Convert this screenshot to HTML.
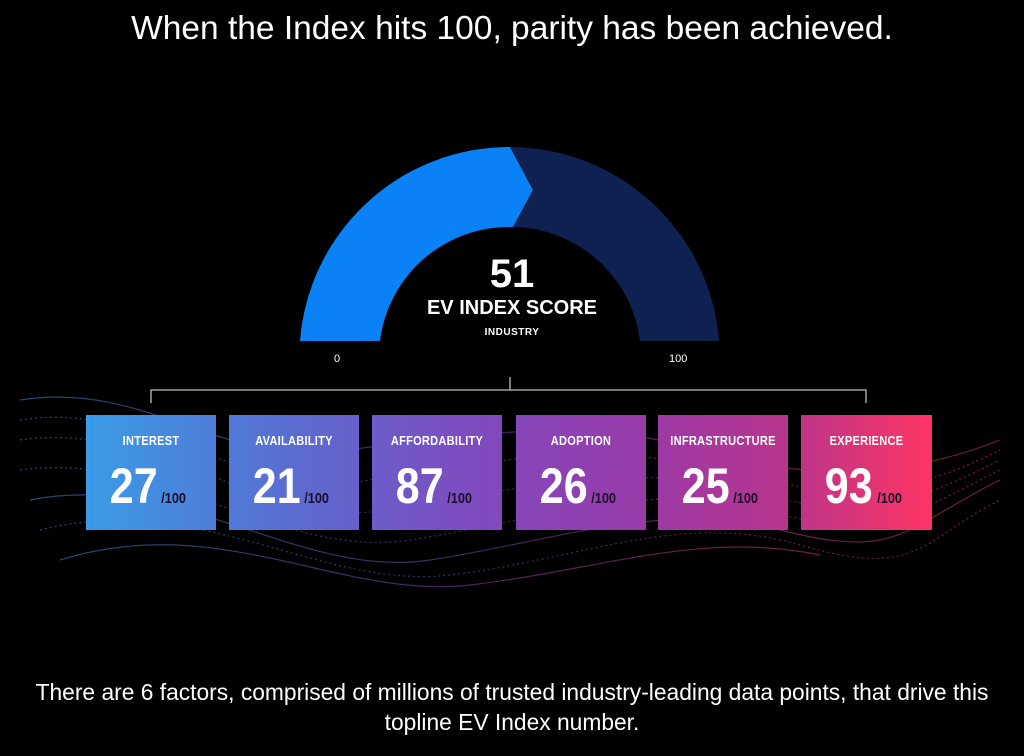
<!DOCTYPE html>
<html><head><meta charset="utf-8"><style>
html,body{margin:0;padding:0;background:#000;}
body{width:1024px;height:756px;position:relative;overflow:hidden;font-family:"Liberation Sans",sans-serif;color:#fff;}
.t{position:absolute;left:0;width:1024px;text-align:center;}
.box{position:absolute;top:415px;width:130px;height:115px;background:linear-gradient(90deg,#3a9ce8 0px,#5a6dd2 200px,#7d4cc0 380px,#9a3aa8 560px,#b8358c 700px,#ff3464 846px);background-size:846px 115px;}
.lab{position:absolute;top:18px;width:100%;text-align:center;font-weight:bold;font-size:13px;transform:scaleX(0.85);letter-spacing:0.3px;}
.num{position:absolute;top:44px;left:-6px;width:100%;text-align:center;white-space:nowrap;}
.num b{display:inline-block;font-size:50px;line-height:54px;transform:scaleX(0.86);transform-origin:right;}
.num i{font-style:normal;font-weight:bold;font-size:15px;color:#1c0f2a;display:inline-block;transform:scaleX(0.85);margin-left:2px;}
</style></head><body>
<div class="t" style="top:10px;font-size:33.5px;">When the Index hits 100, parity has been achieved.</div>
<svg width="1024" height="756" style="position:absolute;left:0;top:0">
<defs><linearGradient id="wg" x1="0" x2="1"><stop offset="0" stop-color="#4a8fe0"/><stop offset="0.5" stop-color="#8a4ac0"/><stop offset="1" stop-color="#f03a6a"/></linearGradient></defs>
<g fill="none" stroke="url(#wg)" stroke-width="1.2" opacity="0.5">
<path d="M20 400 C150 380 220 470 350 450 S600 420 700 450 S900 480 1000 440"/>
<path d="M20 420 C150 400 240 500 370 480 S600 440 720 470 S900 500 1000 450" stroke-dasharray="2 3"/>
<path d="M20 440 C160 420 260 530 390 510 S620 460 740 490 S900 510 1000 460" stroke-dasharray="2 3"/>
<path d="M20 470 C160 450 280 560 410 540 S640 480 760 510 S900 520 1000 470" stroke-dasharray="2 3"/>
<path d="M30 500 C180 470 300 580 430 560 S660 500 780 530 S900 530 1000 480"/>
<path d="M40 530 C200 490 320 590 450 575 S680 510 800 545 S920 540 1000 500" stroke-dasharray="2 3"/>
<path d="M60 560 C220 510 340 600 470 585 S700 530 820 555"/>
</g>
<path d="M300 341 A210 210 0 0 1 510 147 L533 190 L513 227 A130 130 0 0 0 380 341 Z" fill="#0a82f5"/>
<path d="M510 147 A210 210 0 0 1 719 341 L640 341 A130 130 0 0 0 513 227 L533 190 Z" fill="#0e2150"/>
<g stroke="#bbb" stroke-width="1.3" fill="none"><path d="M151 403 V390 H866 V403"/><path d="M510 377 V390"/></g>
</svg>
<div class="t" style="top:252px;font-size:40px;font-weight:bold;">51</div>
<div class="t" style="top:297px;font-size:20px;font-weight:bold;">EV INDEX SCORE</div>
<div class="t" style="top:327px;font-size:10px;font-weight:bold;letter-spacing:0.5px;">INDUSTRY</div>
<div style="position:absolute;left:334px;top:353px;font-size:11px;">0</div>
<div style="position:absolute;left:669px;top:353px;font-size:11px;">100</div>
<div class="box" style="left:86px;background-position:0 0"><div class="lab">INTEREST</div><div class="num"><b>27</b><i>/100</i></div></div>
<div class="box" style="left:229px;background-position:-143px 0"><div class="lab">AVAILABILITY</div><div class="num"><b>21</b><i>/100</i></div></div>
<div class="box" style="left:372px;background-position:-286px 0"><div class="lab">AFFORDABILITY</div><div class="num"><b>87</b><i>/100</i></div></div>
<div class="box" style="left:516px;background-position:-430px 0"><div class="lab">ADOPTION</div><div class="num"><b>26</b><i>/100</i></div></div>
<div class="box" style="left:658px;background-position:-572px 0"><div class="lab">INFRASTRUCTURE</div><div class="num"><b>25</b><i>/100</i></div></div>
<div class="box" style="left:801px;width:131px;background-position:-715px 0"><div class="lab">EXPERIENCE</div><div class="num"><b>93</b><i>/100</i></div></div>
<div class="t" style="top:677px;font-size:22.8px;line-height:30px;">There are 6 factors, comprised of millions of trusted industry-leading data points, that drive this<br>topline EV Index number.</div>
</body></html>
